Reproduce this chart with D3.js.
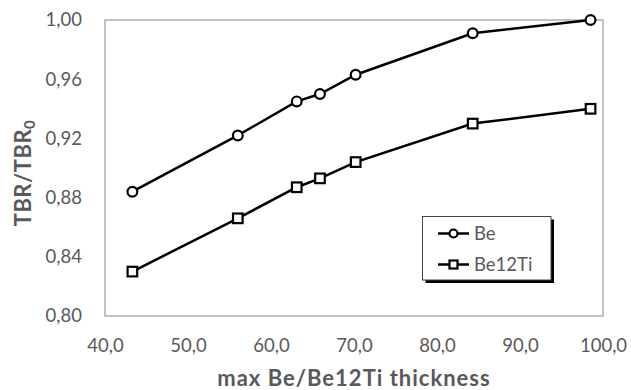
<!DOCTYPE html>
<html><head><meta charset="utf-8">
<script src="https://cdn.jsdelivr.net/npm/d3@7"></script>
<style>html,body{margin:0;padding:0;background:#fff;}svg{display:block;}</style>
</head><body>
<svg id="chart" width="631" height="390"></svg>
<script>
const thickness = [43.3, 56.0, 63.1, 65.9, 70.2, 84.3, 98.5];
const beValues = [0.884, 0.922, 0.945, 0.950, 0.963, 0.991, 1.000];
const be12tiValues = [0.830, 0.866, 0.887, 0.893, 0.904, 0.930, 0.940];
const seriesNames = ["Be", "Be12Ti"];
const xTicks = [40, 50, 60, 70, 80, 90, 100];
const yTicks = [0.80, 0.84, 0.88, 0.92, 0.96, 1.00];
const xTitle = "max Be/Be12Ti thickness";

const svg = d3.select("#chart");
const m = {l:105, r:603, t:20, b:316};
const x = d3.scaleLinear().domain([40,100]).range([m.l, m.r]);
const y = d3.scaleLinear().domain([0.80,1.00]).range([m.b, m.t]);
const font = "Lato, 'Open Sans', sans-serif";
const grey = "#595959";

svg.append("rect").attr("x", m.l).attr("y", m.t).attr("width", m.r-m.l).attr("height", m.b-m.t)
  .attr("fill","none").attr("stroke","#888").attr("stroke-width",1);

const comma = s => s.replace(".", ",");
const yAxis = svg.append("g").attr("transform",`translate(${m.l},0)`)
  .call(d3.axisLeft(y).tickValues(yTicks).tickSize(0).tickPadding(23).tickFormat(d=>comma(d3.format(".2f")(d))));
const xAxis = svg.append("g").attr("transform",`translate(0,${m.b})`)
  .call(d3.axisBottom(x).tickValues(xTicks).tickSize(0).tickPadding(23).tickFormat(d=>comma(d3.format(".1f")(d))));
[yAxis, xAxis].forEach(g=>{
  g.select(".domain").remove();
  g.selectAll("text").attr("fill",grey).style("font-family",font).style("font-size","18.5px");
});

const series = [
  {name: seriesNames[0], values: beValues, shape: "circle"},
  {name: seriesNames[1], values: be12tiValues, shape: "square"}
];
const line = d3.line().x(d=>x(d[0])).y(d=>y(d[1]));
function marker(g, shape, cx, cy, s) {
  if (shape === "circle") {
    g.append("circle").attr("cx",cx).attr("cy",cy).attr("r",s)
      .attr("fill","#fff").attr("stroke","#000").attr("stroke-width",2.2);
  } else {
    g.append("rect").attr("x",cx-s).attr("y",cy-s).attr("width",2*s).attr("height",2*s)
      .attr("fill","#fff").attr("stroke","#000").attr("stroke-width",2.2);
  }
}
series.forEach(s=>{
  const pts = thickness.map((t,i)=>[t, s.values[i]]);
  svg.append("path").attr("d", line(pts)).attr("fill","none").attr("stroke","#000").attr("stroke-width",2.5);
  const g = svg.append("g");
  pts.forEach(p=>marker(g, s.shape, x(p[0]), y(p[1]), s.shape==="circle"?4.9:4.8));
});

// legend
const lg = svg.append("g");
lg.append("rect").attr("x",425.5).attr("y",219.5).attr("width",128.5).attr("height",63.5).attr("fill","#000");
lg.append("rect").attr("x",422.5).attr("y",216.5).attr("width",128.5).attr("height",63.5)
  .attr("fill","#fff").attr("stroke","#444").attr("stroke-width",1);
series.forEach((s,i)=>{
  const ly = 233.5 + i*31;
  lg.append("line").attr("x1",438).attr("x2",469).attr("y1",ly).attr("y2",ly).attr("stroke","#000").attr("stroke-width",2.5);
  marker(lg, s.shape, 453.5, ly, 4);
  lg.append("text").attr("x",474).attr("y",ly).attr("dy","0.35em").text(s.name)
    .attr("fill",grey).style("font-family",font).style("font-size","18.5px");
});

// titles
svg.append("text").attr("x",(m.l+m.r)/2).attr("y",385.5).attr("text-anchor","middle")
  .attr("fill",grey).style("font-family",font).style("font-size","22px").style("font-weight","bold")
  .style("letter-spacing","1px").text(xTitle);
const yt = svg.append("text").attr("transform","translate(31,173) rotate(-90)").attr("text-anchor","middle")
  .attr("fill",grey).style("font-family",font).style("font-size","22px").style("font-weight","bold")
  .style("letter-spacing","0.5px");
yt.append("tspan").text("TBR/TBR");
yt.append("tspan").attr("dy","4").style("font-size","15px").text("0");
</script>
</body></html>
